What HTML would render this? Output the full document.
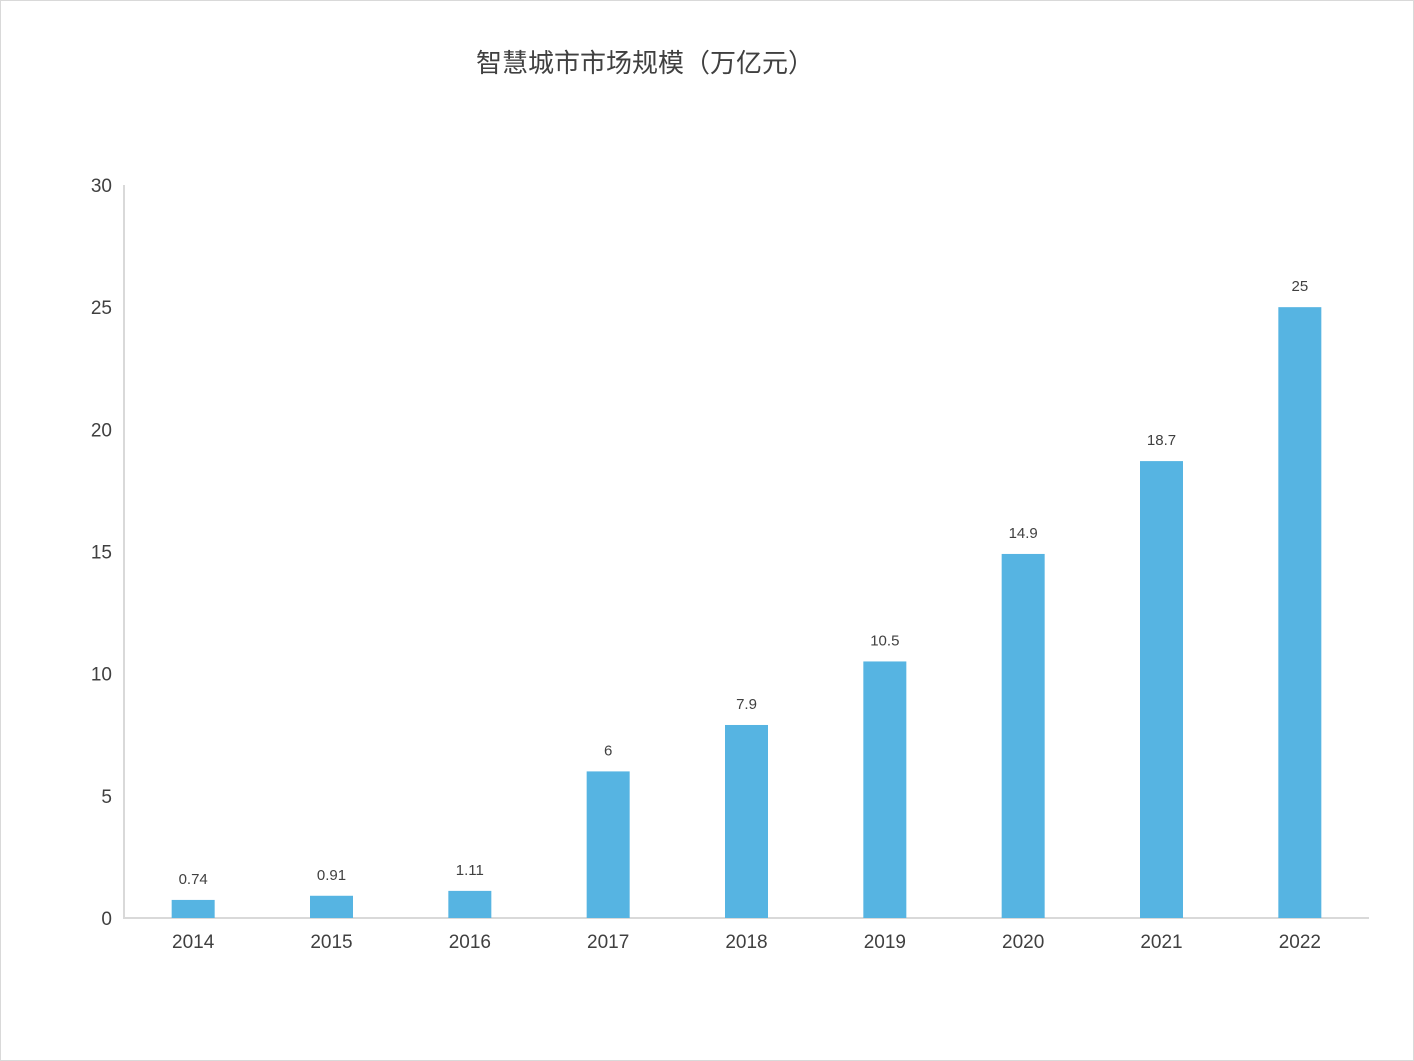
<!DOCTYPE html>
<html><head><meta charset="utf-8"><style>
html,body{margin:0;padding:0;background:#fff;}
svg{display:block;font-family:"Liberation Sans","Noto Sans CJK SC",sans-serif;}
</style></head><body>
<svg id="chart" width="1414" height="1061">
<rect x="0.5" y="0.5" width="1413" height="1060" fill="#fff" stroke="#d9d9d9"/>
<text x="645" y="72" text-anchor="middle" font-size="26" fill="#404040">智慧城市市场规模（万亿元）</text>
<g id="axes"></g><g id="bars"></g>
</svg>
<script>
const categories = ["2014","2015","2016","2017","2018","2019","2020","2021","2022"];
const values = [0.74,0.91,1.11,6,7.9,10.5,14.9,18.7,25];
const valueLabels = ["0.74","0.91","1.11","6","7.9","10.5","14.9","18.7","25"];
const yTicks = [0,5,10,15,20,25,30];
const NS="http://www.w3.org/2000/svg";
const x0=124,x1=1369,y0=918,y1=185,yMax=30;
const band=(x1-x0)/categories.length;
const xC=i=>x0+band*(i+0.5);
const yS=v=>y0-(v/yMax)*(y0-y1);
function mk(t,a,p){const e=document.createElementNS(NS,t);for(const k in a)e.setAttribute(k,a[k]);p.appendChild(e);return e;}
const ax=document.getElementById('axes'),bg=document.getElementById('bars');
let l=mk('line',{x1:x0,y1:y1,x2:x0,y2:y0,stroke:'#d9d9d9','stroke-width':2},ax);


l=mk('line',{x1:x0-1,y1:y0,x2:x1,y2:y0,stroke:'#d9d9d9','stroke-width':2},ax);


yTicks.forEach(v=>{const t=mk('text',{x:112,y:yS(v)+7,'text-anchor':'end','font-size':19,fill:'#404040'},ax);t.textContent=v;

});
categories.forEach((c,i)=>{
 const t=mk('text',{x:xC(i),y:948,'text-anchor':'middle','font-size':19,fill:'#404040'},ax);t.textContent=c;
 
 
 const r=mk('rect',{x:xC(i)-21.5,y:yS(values[i]),width:43,height:y0-yS(values[i]),fill:'#56b4e2'},bg);
 
 
 const v=mk('text',{x:xC(i),y:yS(values[i])-16,'text-anchor':'middle','font-size':15,fill:'#404040'},bg);v.textContent=valueLabels[i];
 
 
});
</script>
</body></html>
